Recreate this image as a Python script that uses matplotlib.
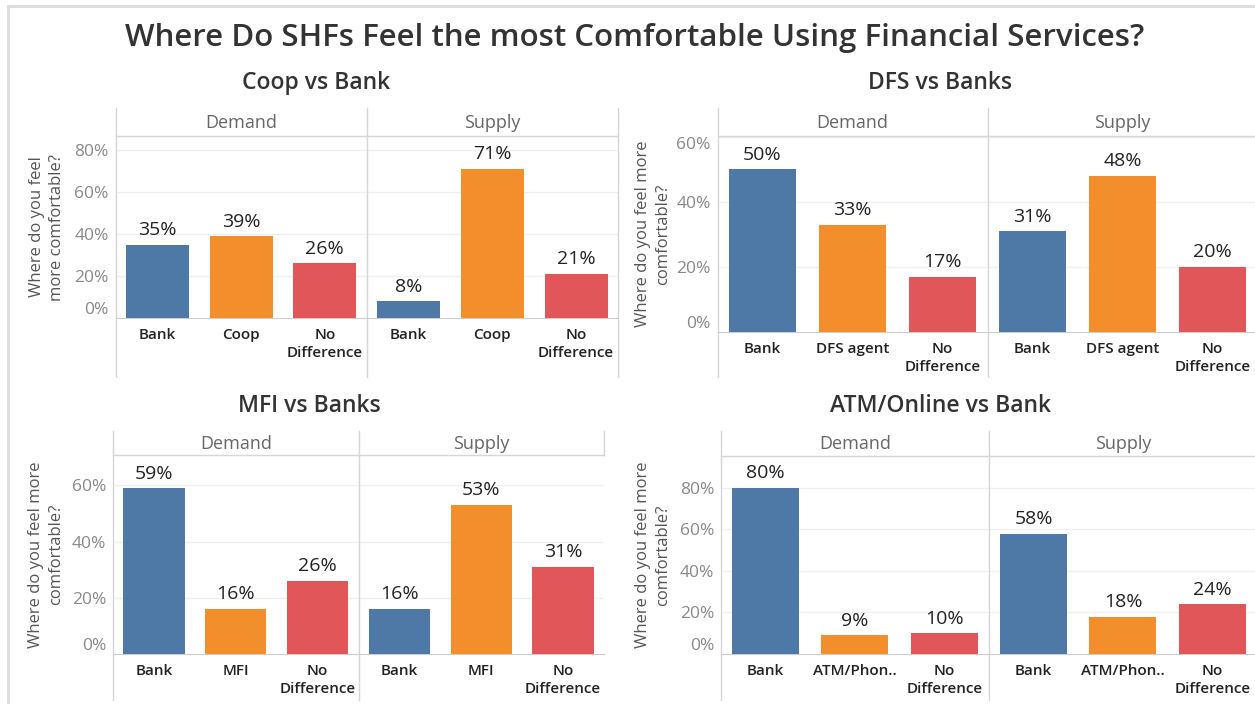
import matplotlib
matplotlib.use('Agg')
import matplotlib.pyplot as plt
import numpy as np

# 数据
panel_titles = ['Coop vs Bank', 'DFS vs Banks', 'MFI vs Banks', 'ATM/Online vs Bank']
categories = [
    ['Bank', 'Coop', 'No\nDifference'],
    ['Bank', 'DFS agent', 'No\nDifference'],
    ['Bank', 'MFI', 'No\nDifference'],
    ['Bank', 'ATM/Phon..', 'No\nDifference'],
]
demand = [
    [35, 39, 26],
    [50, 33, 17],
    [59, 16, 26],
    [80, 9, 10],
]
supply = [
    [8, 71, 21],
    [31, 48, 20],
    [16, 53, 31],
    [58, 18, 24],
]
facets = ['Demand', 'Supply']
ylabels = ['Where do you feel\nmore comfortable?',
           'Where do you feel more\ncomfortable?',
           'Where do you feel more\ncomfortable?',
           'Where do you feel more\ncomfortable?']
yticks = [[0, 20, 40, 60, 80], [0, 20, 40, 60], [0, 20, 40, 60], [0, 20, 40, 60, 80]]
ytop = [86.7, 60.2, 70.8, 95.4]

colors = ['#4E79A7', '#F28E2B', '#E15759']
line_c = '#d6d6d6'

plt.rcParams['font.family'] = ['Open Sans', 'DejaVu Sans']

W, H = 1255, 704
fig = plt.figure(figsize=(W / 100, H / 100), dpi=100)

# 版面位置（像素）: left, right, header_top, header_line, baseline, bottom, title_y, title_x, ylabel_x
layout = [
    (115.5, 618, 108, 136, 318, 377, 83, 316, 47),
    (717.5, 1257.5, 108, 136, 332, 377, 83, 940, 653),
    (113, 604, 431, 455, 654, 700, 406, 309, 46),
    (721, 1257, 431, 456, 654, 700, 406, 940, 653),
]

# 外框
fig.add_artist(plt.Line2D([8 / W, 8 / W], [0, 1 - 6 / H], color='#dcdcdc', lw=2))
fig.add_artist(plt.Line2D([8 / W, 1], [1 - 6 / H, 1 - 6 / H], color='#dcdcdc', lw=2))

fig.text(635 / W, 1 - 38 / H, 'Where Do SHFs Feel the most Comfortable Using Financial Services?',
         ha='center', va='center', fontsize=22.5, color='#333333', fontweight='semibold')

for i in range(4):
    l, r, ht, top, base, bot, ty, tx, ylx = layout[i]
    ax = fig.add_axes([l / W, 1 - base / H, (r - l) / W, (base - top) / H])
    h = base - top
    vals = demand[i] + supply[i]
    x = np.arange(6)
    ax.bar(x, vals, width=0.75, color=colors * 2, zorder=3)
    for xi, v in zip(x, vals):
        ax.annotate(f'{v}%', (xi, v), xytext=(0, 4), textcoords='offset points',
                    ha='center', va='bottom', fontsize=14, color='#222222')
    ax.set_xlim(-0.5, 5.5)
    ax.set_ylim(0, ytop[i])
    ax.set_xticks(x)
    ax.set_xticklabels(categories[i] * 2, fontsize=11, color='#222222',
                       linespacing=1.35, fontweight='semibold')
    ax.set_yticks(yticks[i])
    ax.set_yticklabels([f'{t}%' for t in yticks[i]], fontsize=12.5, color='#888888')
    ax.tick_params(length=0, axis='x', pad=7)
    ax.tick_params(length=0, axis='y', pad=5)
    # 0% 标签往上移，顶部标签往下移（仿 Tableau）
    tl = ax.get_yticklabels()
    tl[0].set_va('bottom')
    if ytop[i] - yticks[i][-1] < 3:
        tl[-1].set_va('top')
    for t in yticks[i][1:]:
        ax.axhline(t, color='#f0f0f0', lw=1, zorder=1)
    for s in ['left', 'right', 'top']:
        ax.spines[s].set_visible(False)
    ax.spines['bottom'].set_color('#cccccc')

    # 表头和分隔线
    yh = 1 + (top - ht) / h
    yb = -(bot - base) / h
    ax.plot([-0.5, 5.5], [ytop[i], ytop[i]], color=line_c, lw=1, clip_on=False, zorder=4)
    tr = ax.get_xaxis_transform()
    ax.plot([-0.5, -0.5], [yb, yh], color=line_c, lw=1, transform=tr, clip_on=False)
    ax.plot([2.5, 2.5], [yb, yh], color=line_c, lw=1, transform=tr, clip_on=False)
    if i == 0:
        ax.plot([5.5, 5.5], [yb, yh], color=line_c, lw=1, transform=tr, clip_on=False)
    else:
        ax.plot([5.5, 5.5], [1, yh], color=line_c, lw=1, transform=tr, clip_on=False)
    yhead = 1 + (top - (ht + top) / 2 - 1) / h
    for j, f in enumerate(facets):
        ax.text(1 + 3 * j, yhead, f, transform=tr, ha='center', va='center',
                fontsize=13, color='#666666')

    fig.text(tx / W, 1 - ty / H, panel_titles[i], ha='center', va='center',
             fontsize=16.5, color='#333333', fontweight='semibold')
    fig.text(ylx / W, 1 - (top + base) / 2 / H, ylabels[i], rotation=90,
             ha='center', va='center', fontsize=12, color='#555555', linespacing=1.3)

plt.savefig('out.png', dpi=100)
